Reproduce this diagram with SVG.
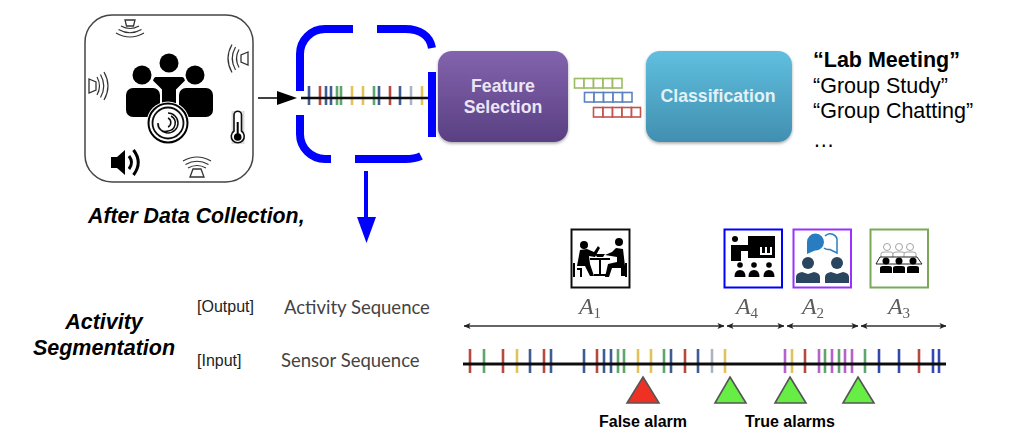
<svg xmlns="http://www.w3.org/2000/svg" width="1028" height="448" viewBox="0 0 1028 448">
<style>
text{font-family:"Liberation Sans",Arial,sans-serif;fill:#000}
.bi{font-weight:bold;font-style:italic}
.b{font-weight:bold}
.seq{font-family:Lato,"Liberation Sans",sans-serif;font-size:18.500px;fill:#444}
.tag{font-size:16px;fill:#222}
.box{font-weight:bold;font-size:17.700px;text-anchor:middle}
.list{font-size:21.500px}
.am{font-family:"Liberation Serif",serif;font-style:italic;font-size:24px;fill:#5c5c5c;text-anchor:middle}
.am tspan{font-style:normal;font-size:15px}
.r{stroke:#b9483c}.g{stroke:#5fa66c}.bl{stroke:#3f5c94}.y{stroke:#e2c35a}.gy{stroke:#aab4c6}.p{stroke:#b860cc}.bb{stroke:#3347b0}
.ticks line{stroke-width:2.600}
.dash{fill:none;stroke:#0000ff;stroke-width:8}
.arc{fill:none;stroke:#333;stroke-width:1.200}
.tri{stroke:#555;stroke-width:1.600}
.cell{fill:#fff;fill-opacity:.6;stroke-width:1.600}
.seg{stroke:#333;stroke-width:1.600;fill:none;marker-start:url(#sh);marker-end:url(#sh)}
</style>
<defs>
<filter id="soft" filterUnits="userSpaceOnUse" x="0" y="0" width="1028" height="448"><feGaussianBlur stdDeviation="0.45"/></filter>
<filter id="shadow" x="-5%" y="-5%" width="110%" height="115%"><feDropShadow dx="0" dy="1.500" stdDeviation="1.500" flood-color="#000" flood-opacity=".35"/></filter>
<linearGradient id="pur" x1="0" y1="0" x2="0" y2="1"><stop offset="0" stop-color="#8263ad"/><stop offset="1" stop-color="#5a4082"/></linearGradient>
<linearGradient id="cyan" x1="0" y1="0" x2="0" y2="1"><stop offset="0" stop-color="#60bfdf"/><stop offset="1" stop-color="#418fb0"/></linearGradient>
<marker id="sh" viewBox="0 0 8 8" refX="7.500" refY="4" markerWidth="7" markerHeight="7" markerUnits="userSpaceOnUse" orient="auto-start-reverse"><path d="M0 .5L8 4L0 7.500L2 4Z" fill="#222"/></marker>
<g id="arcs3"><path class="arc" d="M-9 0Q0 5 9 0"/><path class="arc" d="M-11.500 3.500Q0 10 11.500 3.500"/><path class="arc" d="M-14 7Q0 15 14 7"/></g>
<g id="aud"><circle cx="0" cy="0" r="2.800"/><path d="M-5.500 12Q-5.500 5 0 5Q5.500 5 5.500 12Z"/></g>
<g id="talker"><circle cx="0" cy="0" r="6"/><path d="M-12 20V14Q-12 10 -6 9L0 11L6 9Q12 10 12 14V20Z"/></g>
<g id="seatB"><circle cx="0" cy="0" r="3.500"/><path d="M-6 12V7Q-6 5 -3 5H3Q6 5 6 7V12Z"/></g>
<g id="seatW"><circle cx="0" cy="0" r="3.500"/><path d="M-6 11V7Q-6 5 -3 5H3Q6 5 6 7V11Z"/></g>
</defs>
<rect width="1028" height="448" fill="#fff"/>

<g id="sensor-room" filter="url(#soft)">
<rect x="85" y="15" width="168" height="167" rx="27" fill="#fff" stroke="#444" stroke-width="1.500"/>
<g id="people">
<circle cx="169" cy="63" r="9.500"/><circle cx="142" cy="75" r="9.500"/><circle cx="195" cy="75" r="9.500"/>
<rect x="126" y="88" width="34" height="29" rx="7"/><rect x="179" y="88" width="34" height="29" rx="7"/>
<path d="M156 76H182Q185 76 186 81L177 90V108H161V90L152 81Q153 76 156 76Z" stroke="#fff" stroke-width="2"/>
<circle cx="168" cy="123" r="21.500" fill="#fff"/>
<circle cx="168" cy="123" r="19.500" fill="#fff" stroke="#000" stroke-width="2"/>
<circle cx="168" cy="123" r="15.500" fill="#fff" stroke="#111" stroke-width="1.800"/>
<path d="M168 113A10 10 0 1 1 158 123A7.500 7.500 0 0 0 168 131A8 8 0 0 0 171 116M168 118A5 5 0 0 1 168 127" fill="none" stroke="#111" stroke-width="1.500"/>
</g>
<g id="sensor-top"><path d="M125 20H135L133.500 26H126.500Z" fill="#fff" stroke="#333" stroke-width="1.300"/><use href="#arcs3" transform="translate(130 26)"/></g>
<g id="sensor-left"><path d="M89 79L96 82V90L89 93Z" fill="#fff" stroke="#333" stroke-width="1.300"/><use href="#arcs3" transform="translate(97 86) rotate(-90)"/></g>
<g id="sensor-right"><path d="M248 52L241 55V62L248 65Z" fill="#fff" stroke="#333" stroke-width="1.300"/><use href="#arcs3" transform="translate(239 58.500) rotate(90)"/></g>
<g id="sensor-bottom"><path d="M193 169H201L204 177H190Z" fill="#fff" stroke="#333" stroke-width="1.300"/><use href="#arcs3" transform="translate(197 168) rotate(180)"/></g>
<g id="thermometer"><rect x="231.500" y="111" width="13" height="33" fill="#ddd"/><path d="M234 115A3.700 3.700 0 0 1 241.500 115V131A6.500 6.500 0 1 1 234 131Z" fill="#fff" stroke="#111" stroke-width="1.600"/><circle cx="237.700" cy="137" r="3.800"/><rect x="236.700" y="122" width="2" height="13"/></g>
<g id="speaker"><path d="M111 157H117L125 150V175L117 168H111Z"/><path d="M129 156Q134 162.500 129 169" fill="none" stroke="#000" stroke-width="3"/><path d="M133.500 150Q143 162.500 133.500 175" fill="none" stroke="#000" stroke-width="3"/></g>
</g>

<g id="connectors">
<line x1="258" y1="98" x2="280" y2="98" stroke="#000" stroke-width="1.500"/>
<path d="M277 91L297 98L277 105Z"/>
<line x1="366" y1="171" x2="366" y2="218" stroke="#0000ff" stroke-width="4"/>
<path d="M357 217H376L366.500 243Z" fill="#0000ff"/>
<g filter="url(#soft)">
<line class="seg" x1="464" y1="326" x2="724" y2="326"/>
<line class="seg" x1="727" y1="326" x2="784" y2="326"/>
<line class="seg" x1="787" y1="326" x2="858" y2="326"/>
<line class="seg" x1="861" y1="326" x2="946" y2="326"/>
</g>
</g>

<g id="top-sequence" filter="url(#soft)">
<g class="ticks">
<line class="bl" x1="309" x2="309" y1="86" y2="105"/><line class="r" x1="320" x2="320" y1="86" y2="105"/><line class="bl" x1="326" x2="326" y1="86" y2="105"/><line class="bl" x1="331" x2="331" y1="86" y2="105"/><line class="g" x1="337" x2="337" y1="86" y2="105"/><line class="g" x1="341" x2="341" y1="86" y2="105"/><line class="y" x1="352" x2="352" y1="86" y2="105"/><line class="y" x1="363" x2="363" y1="86" y2="105"/><line class="g" x1="374" x2="374" y1="86" y2="105"/><line class="bl" x1="379" x2="379" y1="86" y2="105"/><line class="r" x1="390" x2="390" y1="86" y2="105"/><line class="bl" x1="400" x2="400" y1="86" y2="105"/><line class="gy" x1="411" x2="411" y1="86" y2="105"/><line class="y" x1="422" x2="422" y1="86" y2="105"/>
</g>
<line x1="301" y1="98" x2="430" y2="98" stroke="#111" stroke-width="2.500"/>
</g>

<g id="capture-window">
<path class="dash" d="M300 91V54A25 25 0 0 1 325 29H353"/>
<path class="dash" d="M377 29H405C420 29 430 36 432 48"/>
<path class="dash" d="M432 72V137"/>
<path class="dash" d="M355 159H405C412 159 417 158 421 156"/>
<path class="dash" d="M331 159H325A25 25 0 0 1 300 134V115"/>
</g>

<g id="feature-selection">
<rect x="438" y="51" width="130" height="91" rx="14" fill="url(#pur)" filter="url(#shadow)"/>
<text class="box" x="503" y="92" style="fill:#ece6f4">Feature</text>
<text class="box" x="503" y="113" style="fill:#ece6f4">Selection</text>
</g>

<g id="feature-vectors" filter="url(#soft)">
<g class="cell" stroke="#9dbb62"><rect x="574.500" y="78.500" width="9.500" height="9.500"/><rect x="584" y="78.500" width="9.500" height="9.500"/><rect x="593.500" y="78.500" width="9.500" height="9.500"/><rect x="603" y="78.500" width="9.500" height="9.500"/><rect x="612.500" y="78.500" width="9.500" height="9.500"/></g>
<g class="cell" stroke="#5b82bd"><rect x="584.500" y="92.500" width="9.500" height="9.500"/><rect x="594" y="92.500" width="9.500" height="9.500"/><rect x="603.500" y="92.500" width="9.500" height="9.500"/><rect x="613" y="92.500" width="9.500" height="9.500"/><rect x="622.500" y="92.500" width="9.500" height="9.500"/></g>
<g class="cell" stroke="#c4524e"><rect x="593.500" y="107.500" width="9.500" height="9.500"/><rect x="603" y="107.500" width="9.500" height="9.500"/><rect x="612.500" y="107.500" width="9.500" height="9.500"/><rect x="622" y="107.500" width="9.500" height="9.500"/><rect x="631.500" y="107.500" width="9" height="9.500"/></g>
</g>

<g id="classification">
<rect x="646" y="51" width="146" height="91" rx="14" fill="url(#cyan)" filter="url(#shadow)"/>
<text class="box" x="718" y="102" style="fill:#e2f2f8">Classification</text>
</g>

<g id="class-list">
<text class="list b" x="813" y="67">“Lab Meeting”</text>
<text class="list" x="813" y="93">“Group Study”</text>
<text class="list" x="813" y="118">“Group Chatting”</text>
<text class="list" x="813" y="147">…</text>
</g>

<text class="bi" x="88" y="223" font-size="21.300">After Data Collection,</text>
<text class="bi" x="104" y="329" font-size="21.500" text-anchor="middle">Activity</text>
<text class="bi" x="104" y="355" font-size="21.500" text-anchor="middle">Segmentation</text>
<text class="tag" x="197" y="312">[Output]</text>
<text class="tag" x="197" y="366">[Input]</text>
<text class="seq" x="284" y="314">Activity Sequence</text>
<text class="seq" x="281" y="367">Sensor Sequence</text>

<g id="activity-a1" filter="url(#soft)">
<rect x="571.500" y="229.500" width="58" height="58" fill="#fff" stroke="#111" stroke-width="2"/>
<circle cx="584" cy="245" r="4"/><circle cx="619" cy="242" r="4"/>
<path d="M580 250L587 249L594 252L598 246L600 248L595 257L589 256L590 264L594 276H590L585 266H577Z"/>
<path d="M616 248L623 249L625 266V276H621V268H612L609 277H605L608 264L617 262L617 257L605 255L612 252Z"/>
<path d="M590 258H610V260H601V274H606V276H594V274H599V260H590Z"/>
<path d="M595 254H605L603 257H597Z"/>
<path d="M573 263H575V277H573ZM577 268H582V277H580V270H577ZM625 263H627V277H625Z"/>
</g>

<g id="activity-a4" filter="url(#soft)">
<rect x="724.500" y="229.500" width="57.500" height="58" fill="#fff" stroke="#0000ff" stroke-width="2"/>
<circle cx="735" cy="239" r="3"/>
<path d="M731 245H749V251H741V261H731Z"/>
<path d="M748 236H775V258H748Z"/>
<path d="M760 247H762V253H765V247H767V253H770V247H772V255H760Z" fill="#fff"/>
<use href="#aud" x="740" y="265"/><use href="#aud" x="754" y="265"/><use href="#aud" x="769" y="265"/>
</g>

<g id="activity-a2" filter="url(#soft)">
<rect x="793.500" y="229.500" width="57.500" height="58" fill="#fff" stroke="#9933ff" stroke-width="2"/>
<path d="M807 254V242A8.500 8.500 0 1 1 815 250.500Z" fill="#2b7cc0"/>
<path d="M825 236A7 7 0 0 1 837 242V253L830 249.500Q826 250 824 248" fill="none" stroke="#2b7cc0" stroke-width="1.500"/>
<use href="#talker" x="808" y="263" fill="#2b4560"/><use href="#talker" x="837" y="263" fill="#2b4560"/>
</g>

<g id="activity-a3" filter="url(#soft)">
<rect x="870.500" y="229.500" width="57.500" height="58" fill="#fff" stroke="#7aaa58" stroke-width="2"/>
<g fill="#fff" stroke="#999" stroke-width=".9"><use href="#seatW" x="887" y="247"/><use href="#seatW" x="899" y="247"/><use href="#seatW" x="910" y="247"/></g>
<path d="M880 257H917L922 264H876Z" fill="#fff" stroke="#222" stroke-width="1"/>
<use href="#seatB" x="886" y="261"/><use href="#seatB" x="899" y="261"/><use href="#seatB" x="913" y="261"/>
</g>

<g id="segment-labels" filter="url(#soft)">
<text class="am" x="590" y="314">A<tspan dy="4">1</tspan></text>
<text class="am" x="747" y="314">A<tspan dy="4">4</tspan></text>
<text class="am" x="813" y="314">A<tspan dy="4">2</tspan></text>
<text class="am" x="899" y="314">A<tspan dy="4">3</tspan></text>
</g>

<g id="bottom-sequence" filter="url(#soft)">
<g class="ticks">
<line class="r" x1="470" x2="470" y1="349" y2="373"/><line class="g" x1="484" x2="484" y1="349" y2="373"/><line class="r" x1="503" x2="503" y1="349" y2="373"/><line class="y" x1="517" x2="517" y1="349" y2="373"/><line class="bl" x1="530" x2="530" y1="349" y2="373"/><line class="r" x1="544" x2="544" y1="349" y2="373"/><line class="bl" x1="551" x2="551" y1="349" y2="373"/><line class="bl" x1="584" x2="584" y1="349" y2="373"/><line class="r" x1="597" x2="597" y1="349" y2="373"/><line class="bl" x1="604" x2="604" y1="349" y2="373"/><line class="bl" x1="611" x2="611" y1="349" y2="373"/><line class="g" x1="618" x2="618" y1="349" y2="373"/><line class="g" x1="624" x2="624" y1="349" y2="373"/><line class="y" x1="638" x2="638" y1="349" y2="373"/><line class="y" x1="651" x2="651" y1="349" y2="373"/><line class="g" x1="664" x2="664" y1="349" y2="373"/><line class="bl" x1="671" x2="671" y1="349" y2="373"/><line class="r" x1="685" x2="685" y1="349" y2="373"/><line class="bl" x1="698" x2="698" y1="349" y2="373"/><line class="gy" x1="712" x2="712" y1="349" y2="373"/><line class="y" x1="725" x2="725" y1="349" y2="373"/><line class="p" x1="785" x2="785" y1="349" y2="373"/><line class="y" x1="792" x2="792" y1="349" y2="373"/><line class="r" x1="805" x2="805" y1="349" y2="373"/><line class="p" x1="819" x2="819" y1="349" y2="373"/><line class="g" x1="825" x2="825" y1="349" y2="373"/><line class="p" x1="832" x2="832" y1="349" y2="373"/><line class="g" x1="839" x2="839" y1="349" y2="373"/><line class="p" x1="845" x2="845" y1="349" y2="373"/><line class="p" x1="852" x2="852" y1="349" y2="373"/><line class="g" x1="865" x2="865" y1="349" y2="373"/><line class="bb" x1="879" x2="879" y1="349" y2="373"/><line class="bb" x1="899" x2="899" y1="349" y2="373"/><line class="r" x1="919" x2="919" y1="349" y2="373"/><line class="bb" x1="933" x2="933" y1="349" y2="373"/><line class="bb" x1="939" x2="939" y1="349" y2="373"/>
</g>
<line x1="463" y1="364" x2="946" y2="364" stroke="#111" stroke-width="3"/>
</g>

<g id="alarms">
<path class="tri" d="M643 377L659 403H627Z" fill="#ee3124"/>
<path class="tri" d="M730 377L746 403H715Z" fill="#66ee44"/>
<path class="tri" d="M790 377L806 403H775Z" fill="#66ee44"/>
<path class="tri" d="M858 377L874 403H843Z" fill="#66ee44"/>
<text class="b" x="643" y="427" font-size="16" text-anchor="middle">False alarm</text>
<text class="b" x="790" y="427" font-size="16" text-anchor="middle">True alarms</text>
</g>
</svg>
